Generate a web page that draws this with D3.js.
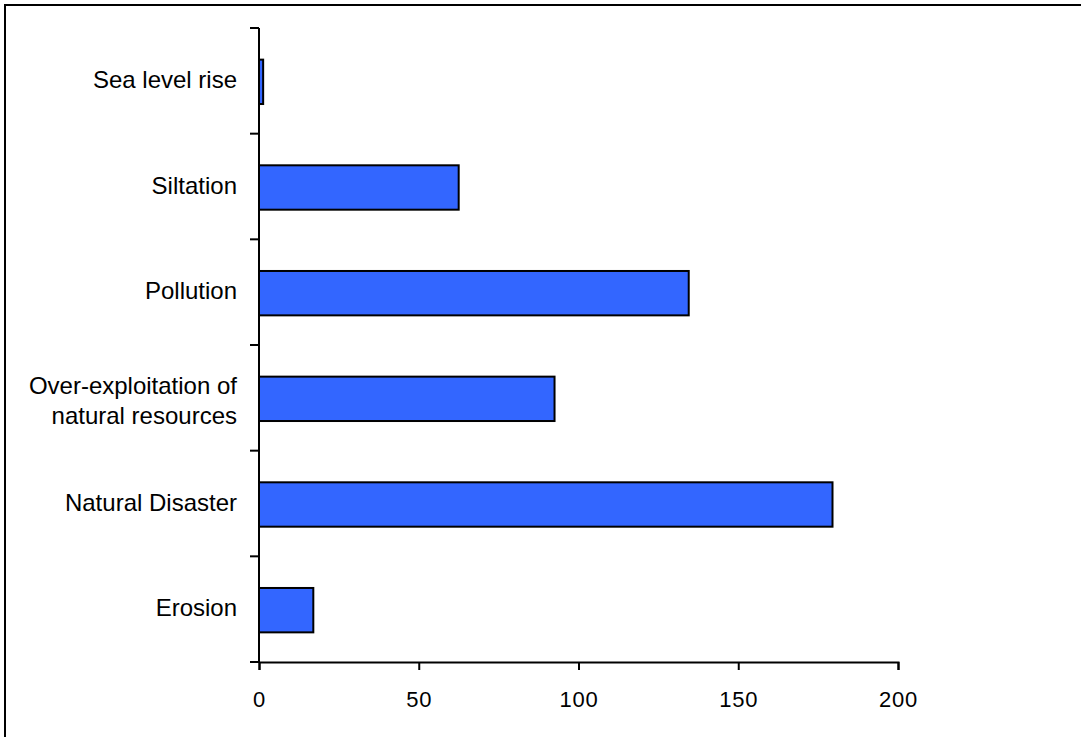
<!DOCTYPE html>
<html>
<head>
<meta charset="utf-8">
<script src="https://cdn.jsdelivr.net/npm/d3@7"></script>
<style>
  html, body { margin: 0; padding: 0; background: #fff; }
  svg { display: block; }
  text { font-family: "Liberation Sans", Arial, sans-serif; fill: #000; }
</style>
</head>
<body>
<svg id="chart" width="1081" height="737"></svg>
<script>
// Categories listed bottom-to-top as in the original chart
const categories = [
  "Erosion",
  "Natural Disaster",
  "Over-exploitation of\nnatural resources",
  "Pollution",
  "Siltation",
  "Sea level rise"
];
const values = [17, 179.5, 92.5, 134.5, 62.5, 1.3];
const xTicks = [0, 50, 100, 150, 200];

const svg = d3.select("#chart");
const W = 1081, H = 737;
const margin = { left: 259, right: 183, top: 28, bottom: 75 };
const plotW = W - margin.left - margin.right; // 639
const plotH = H - margin.top - margin.bottom; // 634

// Outer border (extends past the right/bottom of the viewport)
svg.append("rect")
  .attr("x", 5).attr("y", 5)
  .attr("width", W + 20).attr("height", H + 20)
  .attr("fill", "none").attr("stroke", "#000").attr("stroke-width", 2);

const x = d3.scaleLinear().domain([0, 200]).range([margin.left, margin.left + plotW]);
const y = d3.scaleBand()
  .domain(categories.slice().reverse())
  .range([margin.top, margin.top + plotH])
  .paddingInner(0.58)
  .paddingOuter(0.29);

const data = categories.map((c, i) => ({ cat: c, val: values[i] }));

// Bars
svg.append("g").selectAll("rect")
  .data(data)
  .join("rect")
  .attr("x", x(0))
  .attr("y", d => y(d.cat) + 1)
  .attr("width", d => x(d.val) - x(0))
  .attr("height", y.bandwidth())
  .attr("fill", "#3366FF")
  .attr("stroke", "#000")
  .attr("stroke-width", 2);

// X axis
const xAxis = d3.axisBottom(x)
  .tickValues(xTicks)
  .tickFormat(d3.format("d"))
  .tickSizeInner(8)
  .tickSizeOuter(8)
  .tickPadding(21);
const gx = svg.append("g")
  .attr("transform", `translate(0,${margin.top + plotH})`)
  .call(xAxis);
gx.selectAll("path, line").attr("stroke", "#000").attr("stroke-width", 2);
gx.selectAll("text")
  .attr("font-family", "Liberation Sans, Arial, sans-serif")
  .attr("font-size", 22)
  .style("letter-spacing", "0.8px");

// Y axis line
const yTop = margin.top, yBot = margin.top + plotH;
svg.append("line")
  .attr("x1", x(0)).attr("x2", x(0))
  .attr("y1", yTop).attr("y2", yBot)
  .attr("stroke", "#000").attr("stroke-width", 2);

// Y ticks between categories
const step = y.step();
const tickYs = d3.range(categories.length + 1).map(i => yTop + i * step);
svg.append("g").selectAll("line")
  .data(tickYs)
  .join("line")
  .attr("x1", x(0) - 9).attr("x2", x(0))
  .attr("y1", d => d).attr("y2", d => d)
  .attr("stroke", "#000").attr("stroke-width", 2);

// Y labels
const lbl = svg.append("g").selectAll("text")
  .data(data)
  .join("text")
  .attr("text-anchor", "end")
  .attr("font-size", 24);
lbl.each(function(d) {
  const lines = d.cat.split("\n");
  const cy = y(d.cat) + 1 + y.bandwidth() / 2;
  const first = cy + 6 - (lines.length - 1) * 11;
  d3.select(this).selectAll("tspan")
    .data(lines)
    .join("tspan")
    .attr("x", x(0) - 22)
    .attr("y", (t, i) => first + i * 30)
    .text(t => t);
});
</script>
</body>
</html>
